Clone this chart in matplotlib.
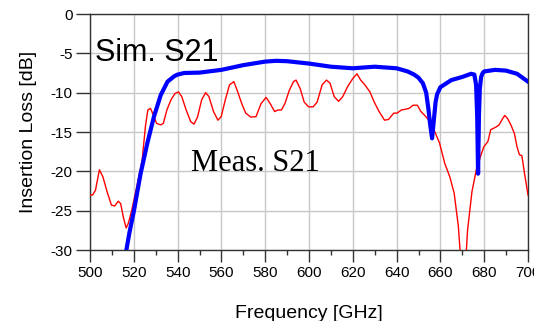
import matplotlib
matplotlib.use("Agg")
import matplotlib.pyplot as plt
from matplotlib.ticker import MultipleLocator

# Simulated S21 (blue)
sim_freq = [516.6, 518.0, 520.0, 523.1, 526.2, 529.2, 532.3, 535.4, 538.5, 540.0, 543.0,
            550.0, 560.0, 570.0, 580.0, 585.0, 590.0, 600.0, 610.0, 620.0, 630.0, 640.0,
            645.0, 648.0, 650.0, 652.0, 653.5, 654.5, 655.3, 656.2, 657.0, 657.8, 658.5,
            660.0, 665.0, 670.0, 674.0, 675.5, 676.3, 676.8, 677.2, 677.6, 678.0, 678.6,
            679.3, 680.0, 685.0, 690.0, 695.0, 700.0]
sim_db = [-30.0, -27.8, -25.1, -20.3, -16.4, -13.05, -10.3, -8.6, -7.9, -7.7, -7.5,
          -7.45, -7.1, -6.5, -6.05, -5.95, -6.0, -6.3, -6.7, -6.9, -6.7, -6.9,
          -7.3, -7.7, -8.1, -8.8, -10.0, -12.0, -14.0, -15.8, -13.5, -11.2, -10.2,
          -9.3, -8.4, -8.0, -7.6, -7.7, -9.0, -13.0, -20.3, -13.0, -9.5, -8.0,
          -7.5, -7.3, -7.1, -7.2, -7.6, -8.6]

# Measured S21 (red)
meas_freq = [500.0, 501.2, 502.5, 504.3, 505.9, 507.8, 509.8, 511.3, 512.9, 514.0, 515.2,
             516.5, 517.5, 519.1, 521.4, 523.8, 525.3, 526.4, 527.6, 528.9, 530.4, 532.3,
             533.5, 535.1, 537.0, 538.8, 540.4, 541.9, 543.9, 546.0, 547.5, 549.1, 551.0,
             552.8, 554.3, 556.4, 558.4, 559.9, 561.8, 563.7, 565.7, 567.2, 569.3, 571.1,
             573.4, 575.8, 578.1, 580.4, 582.3, 584.3, 585.9, 587.4, 589.0, 591.0, 592.9,
             594.1, 596.0, 597.8, 599.8, 601.9, 603.7, 606.0, 608.0, 609.6, 611.5, 613.5,
             615.4, 617.7, 620.0, 621.9, 623.6, 625.5, 627.8, 629.8, 632.0, 634.5, 636.3,
             638.7, 640.2, 642.2, 644.1, 645.7, 647.5, 649.5, 651.1, 653.4, 655.3, 657.8,
             659.6, 662.0, 664.3, 666.3, 668.2, 670.0, 671.0, 672.4, 674.4, 676.4, 678.3,
             679.8, 681.7, 683.0, 685.2, 686.8, 688.4, 689.4, 690.7, 692.2, 693.8, 695.0,
             696.1, 697.2, 698.4, 700.0]
meas_db = [-23.0, -23.0, -22.4, -19.8, -20.7, -22.6, -24.3, -24.4, -23.8, -24.1, -25.8,
           -27.2, -26.6, -24.9, -21.9, -18.6, -14.3, -12.2, -12.0, -12.8, -13.9, -14.1,
           -13.9, -12.2, -10.9, -10.1, -9.9, -10.5, -12.2, -13.7, -14.0, -13.1, -10.9,
           -10.0, -10.5, -12.4, -13.5, -13.05, -10.9, -9.0, -8.6, -9.7, -11.4, -12.6,
           -13.1, -13.05, -11.4, -10.6, -11.4, -12.4, -12.2, -12.2, -11.4, -9.7, -8.6,
           -8.4, -9.5, -11.2, -11.8, -11.8, -11.2, -9.0, -8.4, -8.8, -10.5, -11.1,
           -10.5, -9.2, -8.2, -7.6, -8.4, -9.0, -9.9, -11.2, -12.4, -13.5, -13.4,
           -12.6, -12.6, -12.2, -12.1, -12.0, -11.6, -11.6, -12.4, -13.05, -13.7, -15.2,
           -16.4, -19.0, -20.7, -22.8, -27.0, -34.0, -34.0, -27.5, -22.6, -19.8, -18.1,
           -16.9, -16.2, -14.7, -14.4, -14.1, -13.3, -12.9, -13.3, -14.1, -15.2, -16.9,
           -17.9, -18.0, -20.25, -23.0]

x_ticks = [500, 520, 540, 560, 580, 600, 620, 640, 660, 680, 700]
y_ticks = [0, -5, -10, -15, -20, -25, -30]

plt.rcParams['font.family'] = ['Liberation Sans', 'DejaVu Sans']

fig = plt.figure(figsize=(5.34, 3.21), dpi=100)
ax = fig.add_axes([90/534, 1-250/321, 438/534, 236/321])

ax.plot(meas_freq, meas_db, color='#ff0000', lw=1.0, zorder=3)
ax.plot(sim_freq, sim_db, color='#0000ff', lw=3.0, zorder=4, solid_joinstyle='round')

ax.set_xlim(500, 700)
ax.set_ylim(-30, 0)
ax.set_xticks(x_ticks)
ax.set_yticks(y_ticks)
ax.set_yticklabels([str(v) for v in y_ticks])
ax.xaxis.set_minor_locator(MultipleLocator(10))
ax.grid(True, which='major', color='#c8c8c8', lw=1.0)
ax.set_axisbelow(True)

for s in ax.spines.values():
    s.set_color('#333333')
    s.set_linewidth(1.0)

ax.tick_params(axis='x', which='major', direction='out', length=8.4, width=1.0,
               color='#333333', labelsize=11, pad=3.4)
ax.tick_params(axis='x', which='minor', direction='out', length=3.6, width=1.0,
               color='#333333')
ax.tick_params(axis='y', which='major', direction='out', length=10, width=1.0,
               color='#333333', labelsize=11, pad=2.5)

ax.set_xlabel('Frequency [GHz]', fontsize=14, labelpad=18)
ax.set_ylabel('Insertion Loss [dB]', fontsize=14, labelpad=10)

ax.text(502.3, -5.94, 'Sim. S21', fontsize=22, va='baseline', ha='left', color='black',
        zorder=5)
ax.text(545.9, -20.0, 'Meas. S21', fontsize=22, va='baseline', ha='left', color='black',
        family=['Liberation Serif', 'DejaVu Serif'], zorder=5)

fig.savefig('out.png', dpi=100)
